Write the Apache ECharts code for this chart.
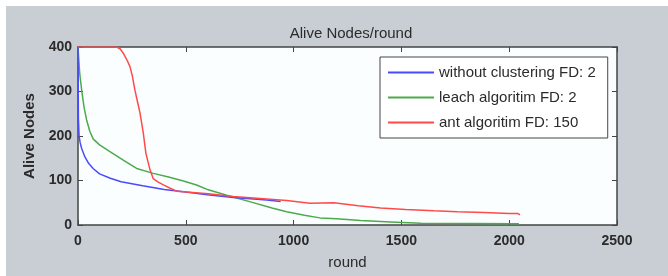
<!DOCTYPE html>
<html>
<head>
<meta charset="utf-8">
<style>
html,body{margin:0;padding:0;background:#fff;}
#c{width:668px;height:276px;}
</style>
<script src="https://cdn.jsdelivr.net/npm/echarts@6/dist/echarts.min.js"></script>
</head>
<body>
<div id="c"></div>
<script>
var titleText = 'Alive Nodes/round';
var xName = 'round';
var yName = 'Alive Nodes';
var xTicks = [0, 500, 1000, 1500, 2000, 2500];
var yTicks = [0, 100, 200, 300, 400];
var seriesNames = ['without clustering FD: 2', 'leach algoritim FD: 2', 'ant algoritim FD: 150'];

var blueData = [[0,400],[2,240],[5,200],[10,185],[17,172],[32,153],[50,138],[70,127],[100,115],[150,105],[200,97],[300,88],[400,80],[500,74],[600,68],[720,62],[875,56],[940,53]];
var greenData = [[0,400],[8,340],[17,303],[28,265],[40,236],[55,210],[71,193],[100,180],[148,165],[210,146],[272,127],[349,116],[420,108],[489,99],[550,90],[604,79],[690,67],[800,52],[900,38],[968,30],[1050,22],[1122,16],[1200,14],[1311,10],[1450,7],[1590,4],[2045,3]];
var redData = [[0,400],[179,400],[195,396],[210,386],[230,368],[241,356],[252,335],[264,303],[276,277],[288,251],[303,206],[315,161],[334,124],[349,104],[370,97],[396,90],[430,82],[458,76],[504,74],[604,70],[720,64],[830,60],[968,55],[1076,49],[1187,50],[1300,43],[1404,38],[1520,35],[1651,32],[1760,30],[1883,28],[2000,26],[2038,26],[2050,23]];

var colors = ['#4a4aff', '#4caa4c', '#ff4a4a'];
var font = 'Liberation Sans, Arial, sans-serif';
var txt = '#2b2b2b';

var chart = echarts.init(document.getElementById('c'));
chart.setOption({
  animation: false,
  backgroundColor: '#c9cdd4',
  graphic: [
    {type:'rect', shape:{x:0,y:0,width:668,height:6}, style:{fill:'#ffffff'}, silent:true},
    {type:'rect', shape:{x:0,y:0,width:6,height:276}, style:{fill:'#ffffff'}, silent:true}
  ],
  title: {
    text: titleText, left: 346, top: 21, textAlign: 'center',
    textStyle: {fontFamily: font, fontSize: 15, fontWeight: 'normal', color: txt}
  },
  legend: {
    data: seriesNames, orient: 'vertical', left: 380, top: 57,
    itemWidth: 46, itemHeight: 2, itemGap: 10,
    padding: [8, 12, 8, 8],
    backgroundColor: '#ffffff', borderColor: '#444', borderWidth: 1,
    icon: 'rect',
    textStyle: {fontFamily: font, fontSize: 15, color: txt}
  },
  grid: {left: 78, top: 47, width: 539, height: 178, backgroundColor: '#fbfeff', show: true, borderWidth: 0},
  xAxis: [{
    type: 'value', min: 0, max: 2500, interval: 500, position: 'bottom',
    name: xName, nameLocation: 'middle', nameGap: 30,
    nameTextStyle: {fontFamily: font, fontSize: 15, color: txt},
    axisLine: {onZero: false, lineStyle: {color: '#444', width: 1.5}},
    axisTick: {inside: true, length: 5, lineStyle: {color: '#444'}},
    axisLabel: {fontFamily: font, fontSize: 14, color: txt, margin: 9, fontWeight: 'bold', formatter: function (v) { return String(v); }},
    splitLine: {show: false}
  }, {
    type: 'value', min: 0, max: 2500, interval: 500, position: 'top',
    axisLine: {onZero: false, lineStyle: {color: '#444', width: 1.5}},
    axisTick: {inside: true, length: 5, lineStyle: {color: '#444'}},
    axisLabel: {show: false}, splitLine: {show: false}
  }],
  yAxis: [{
    type: 'value', min: 0, max: 400, interval: 100, position: 'left',
    name: yName, nameLocation: 'middle', nameGap: 38,
    nameTextStyle: {fontFamily: font, fontSize: 15, color: txt, fontWeight: 'bold'},
    axisLine: {show: true, onZero: false, lineStyle: {color: '#444', width: 1.5}},
    axisTick: {show: true, inside: true, length: 5, lineStyle: {color: '#444'}},
    axisLabel: {fontFamily: font, fontSize: 14, color: txt, margin: 6, fontWeight: 'bold', formatter: function (v) { return String(v); }},
    splitLine: {show: false}
  }, {
    type: 'value', min: 0, max: 400, interval: 100, position: 'right',
    axisLine: {show: true, onZero: false, lineStyle: {color: '#444', width: 1.5}},
    axisTick: {show: true, inside: true, length: 5, lineStyle: {color: '#444'}},
    axisLabel: {show: false}, splitLine: {show: false}
  }],
  series: [
    {name: seriesNames[0], type: 'line', data: blueData, showSymbol: false, color: colors[0], lineStyle: {width: 1.5}, z: 3},
    {name: seriesNames[1], type: 'line', data: greenData, showSymbol: false, color: colors[1], lineStyle: {width: 1.5}, z: 2},
    {name: seriesNames[2], type: 'line', data: redData, showSymbol: false, color: colors[2], lineStyle: {width: 1.5}, z: 4}
  ]
});
</script>
</body>
</html>
